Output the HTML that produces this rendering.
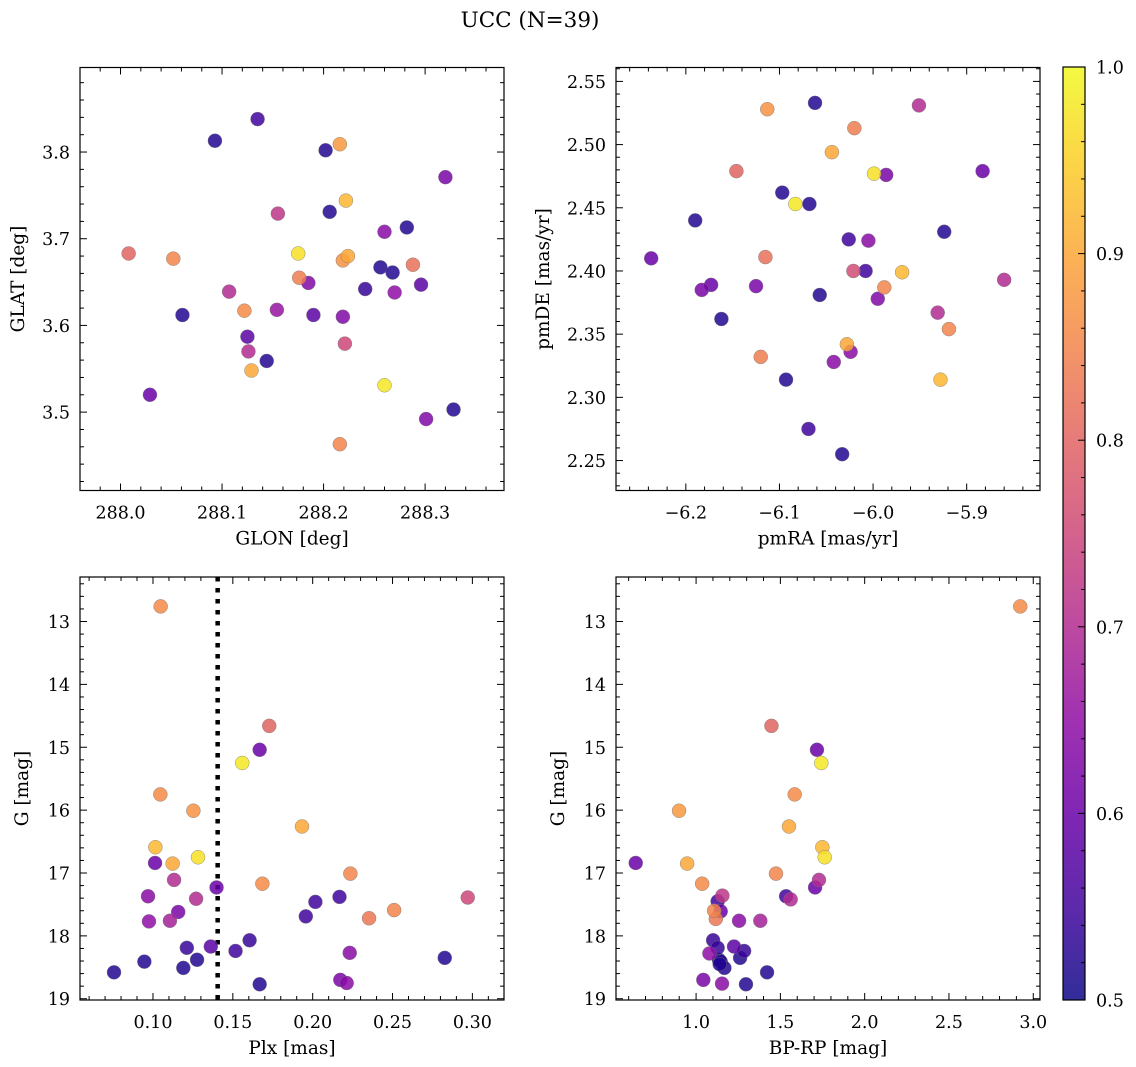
<!DOCTYPE html>
<html><head><meta charset="utf-8"><style>
html,body{margin:0;padding:0;background:#fff;}
svg{display:block;font-family:"DejaVu Serif","Liberation Serif",serif;}
</style></head><body>
<svg id="fig" width="1136" height="1067" viewBox="0 0 1136 1067" xmlns="http://www.w3.org/2000/svg">
<rect width="1136" height="1067" fill="#fff"/>
<text x="530" y="27" font-size="21.5" text-anchor="middle">UCC (N=39)</text>
<defs><linearGradient id="plasma" x1="0" y1="1" x2="0" y2="0">
<stop offset="0" stop-color="#0d0887"/><stop offset="0.1" stop-color="#41049d"/><stop offset="0.2" stop-color="#6a00a8"/><stop offset="0.3" stop-color="#8f0da4"/><stop offset="0.4" stop-color="#b12a90"/><stop offset="0.5" stop-color="#cc4778"/><stop offset="0.6" stop-color="#e16462"/><stop offset="0.7" stop-color="#f2844b"/><stop offset="0.8" stop-color="#fca636"/><stop offset="0.9" stop-color="#fcce25"/><stop offset="1" stop-color="#f0f921"/></linearGradient></defs>
<g id="root"></g>
</svg>
<script>
// Panel 1: GLON / GLAT
const glon=[288.093,288.135,288.202,288.216,288.320,288.222,288.206,288.155,288.260,288.282,288.008,288.052,288.175,288.219,288.224,288.256,288.268,288.288,288.176,288.185,288.107,288.241,288.296,288.270,288.061,288.122,288.154,288.190,288.219,288.125,288.221,288.126,288.144,288.129,288.029,288.260,288.328,288.301,288.216];
const glat=[3.813,3.838,3.802,3.809,3.771,3.744,3.731,3.729,3.708,3.713,3.683,3.677,3.683,3.675,3.680,3.667,3.661,3.670,3.655,3.649,3.639,3.642,3.647,3.638,3.612,3.617,3.618,3.612,3.610,3.587,3.579,3.570,3.559,3.548,3.520,3.531,3.503,3.492,3.463];
const prob1=[0.52,0.55,0.52,0.88,0.62,0.92,0.52,0.72,0.64,0.52,0.8,0.85,0.97,0.87,0.9,0.52,0.52,0.82,0.84,0.63,0.7,0.54,0.58,0.65,0.52,0.86,0.66,0.58,0.63,0.58,0.75,0.7,0.52,0.9,0.6,0.98,0.52,0.63,0.85];
// Panel 2: pmRA / pmDE
const pmra=[-6.113,-6.062,-5.951,-6.020,-6.044,-6.146,-5.999,-5.986,-5.883,-6.097,-6.083,-6.068,-6.190,-5.924,-6.026,-6.005,-6.237,-6.115,-6.021,-6.008,-5.969,-6.173,-6.183,-6.125,-5.988,-5.860,-6.057,-5.995,-6.162,-5.931,-5.919,-6.028,-6.024,-6.120,-6.042,-6.093,-5.928,-6.069,-6.033];
const pmde=[2.528,2.533,2.531,2.513,2.494,2.479,2.477,2.476,2.479,2.462,2.453,2.453,2.440,2.431,2.425,2.424,2.410,2.411,2.400,2.400,2.399,2.389,2.385,2.388,2.387,2.393,2.381,2.378,2.362,2.367,2.354,2.342,2.336,2.332,2.328,2.314,2.314,2.275,2.255];
const prob2=[0.87,0.52,0.7,0.84,0.9,0.8,0.97,0.62,0.6,0.52,0.98,0.52,0.52,0.52,0.55,0.64,0.6,0.82,0.76,0.55,0.92,0.6,0.62,0.62,0.85,0.7,0.52,0.63,0.52,0.7,0.85,0.9,0.64,0.84,0.64,0.52,0.92,0.55,0.52];
// Panel 3: Plx / G
const plx=[0.1048,0.1728,0.1668,0.1559,0.1046,0.1253,0.1933,0.1015,0.1282,0.1013,0.1123,0.2236,0.1132,0.1685,0.1398,0.0969,0.1270,0.2168,0.2971,0.2017,0.2510,0.1158,0.1957,0.2353,0.0975,0.1106,0.1605,0.1212,0.1362,0.1517,0.2232,0.2827,0.0946,0.1276,0.1190,0.0756,0.2173,0.2213,0.1668];
const gmag3=[12.76,14.66,15.04,15.25,15.75,16.01,16.26,16.59,16.75,16.84,16.85,17.01,17.11,17.17,17.23,17.37,17.41,17.38,17.39,17.46,17.59,17.62,17.69,17.72,17.77,17.76,18.07,18.19,18.17,18.24,18.27,18.35,18.41,18.38,18.51,18.58,18.70,18.75,18.77];
const prob3=[0.86,0.8,0.6,0.98,0.86,0.87,0.9,0.92,0.97,0.6,0.9,0.85,0.7,0.86,0.6,0.64,0.7,0.55,0.75,0.55,0.85,0.62,0.55,0.83,0.65,0.68,0.54,0.54,0.58,0.55,0.64,0.52,0.52,0.52,0.52,0.52,0.62,0.64,0.52];
const plxCut=[0.1405];
// Panel 4: BP-RP / G
const bprp=[2.923,1.447,1.717,1.743,1.585,0.899,1.551,1.749,1.763,0.642,0.947,1.474,1.729,1.036,1.706,1.156,1.561,1.534,1.128,1.146,1.107,1.117,1.255,1.381,1.101,1.128,1.225,1.285,1.079,1.261,1.136,1.146,1.168,1.421,1.043,1.154,1.296,1.140];
const gmag4=[12.76,14.66,15.04,15.25,15.75,16.01,16.26,16.59,16.75,16.84,16.85,17.01,17.11,17.17,17.23,17.36,17.42,17.37,17.45,17.61,17.60,17.73,17.76,17.76,18.07,18.19,18.17,18.24,18.28,18.35,18.38,18.41,18.51,18.58,18.70,18.76,18.77,18.45];
const prob4=[0.86,0.8,0.6,0.98,0.86,0.88,0.9,0.92,0.97,0.6,0.9,0.85,0.7,0.86,0.6,0.72,0.7,0.55,0.55,0.6,0.85,0.83,0.64,0.68,0.54,0.54,0.58,0.54,0.65,0.52,0.5,0.52,0.52,0.52,0.62,0.64,0.52,0.52];
const cbarTicks=[0.5,0.6,0.7,0.8,0.9,1.0];

const NS="http://www.w3.org/2000/svg";
const root=document.getElementById('root');
function mk(tag,attrs,parent){const e=document.createElementNS(NS,tag);for(const k in attrs)e.setAttribute(k,attrs[k]);(parent||root).appendChild(e);return e;}
const stops=[[13,8,135],[65,4,157],[106,0,168],[143,13,164],[177,42,144],[204,71,120],[225,100,98],[242,132,75],[252,166,54],[252,206,37],[240,249,33]];
function plasma(v){let t=Math.max(0,Math.min(1,(v-0.5)/0.5))*10;let i=Math.min(9,Math.floor(t));let f=t-i;const a=stops[i],b=stops[i+1];return 'rgb('+a.map((c,k)=>Math.round(c+(b[k]-c)*f)).join(',')+')';}
function fmt(v,d){let s=v.toFixed(d);return s.replace('-','\u2212');}

function panel(o){
  const g=mk('g',{});
  
  
  const sx=v=>o.x0+(v-o.xmin)/(o.xmax-o.xmin)*(o.x1-o.x0);
  const sy=o.yinv?(v=>o.y0+(v-o.ymin)/(o.ymax-o.ymin)*(o.y1-o.y0)):(v=>o.y1-(v-o.ymin)/(o.ymax-o.ymin)*(o.y1-o.y0));
  const eps=1e-9;
  const tg=mk('g',{stroke:'#000','stroke-width':1},g);
  
  
  for(let v=Math.ceil(o.xmin/o.xminor-eps)*o.xminor;v<=o.xmax+eps;v+=o.xminor){
    const X=sx(v);const major=Math.abs(v/o.xmajor-Math.round(v/o.xmajor))<1e-6;const L=major?7:4;
    mk('line',{x1:X,x2:X,y1:o.y1,y2:o.y1-L},tg);mk('line',{x1:X,x2:X,y1:o.y0,y2:o.y0+L},tg);
    if(major){const t=mk('text',{x:X,y:o.y1+28,'font-size':17.5,'text-anchor':'middle',stroke:'none',fill:'#000'},g);t.textContent=fmt(v,o.xd);
      }
  }
  for(let v=Math.ceil(o.ymin/o.yminor-eps)*o.yminor;v<=o.ymax+eps;v+=o.yminor){
    const Y=sy(v);const major=Math.abs(v/o.ymajor-Math.round(v/o.ymajor))<1e-6;const L=major?7:4;
    mk('line',{x1:o.x0,x2:o.x0+L,y1:Y,y2:Y},tg);mk('line',{x1:o.x1,x2:o.x1-L,y1:Y,y2:Y},tg);
    if(major){const t=mk('text',{x:o.x0-10,y:Y+6.5,'font-size':17.5,'text-anchor':'end',fill:'#000'},g);t.textContent=fmt(v,o.yd);
      }
  }
  const xl=mk('text',{x:(o.x0+o.x1)/2,y:o.y1+54,'font-size':18.5,'text-anchor':'middle'},g);xl.textContent=o.xlabel;
  
  const yx=o.x0-o.yoff;const yl=mk('text',{x:yx,y:(o.y0+o.y1)/2,'font-size':18.5,'text-anchor':'middle',transform:'rotate(-90 '+yx+' '+(o.y0+o.y1)/2+')'},g);yl.textContent=o.ylabel;
  
  const clipId='c'+o.name;const cp=mk('clipPath',{id:clipId},g);mk('rect',{x:o.x0,y:o.y0,width:o.x1-o.x0,height:o.y1-o.y0},cp);
  const pg=mk('g',{'clip-path':'url(#'+clipId+')'},g);
  if(o.vline){for(const v of o.vline){const l=mk('line',{x1:sx(v),x2:sx(v),y1:o.y0,y2:o.y1,stroke:'#000','stroke-width':4.5,'stroke-dasharray':'4.5 6.5'},pg);
    }}
  const order=o.c.map((c,i)=>i).sort((a,b)=>o.c[a]-o.c[b]);
  for(const i of order){const c=mk('circle',{cx:sx(o.xs[i]),cy:sy(o.ys[i]),r:7,fill:plasma(o.c[i]),'fill-opacity':0.85,stroke:'#777','stroke-width':0.4},pg);
    }
  const fr=mk('rect',{x:o.x0,y:o.y0,width:o.x1-o.x0,height:o.y1-o.y0,fill:'none',stroke:'#000','stroke-width':1.2},g);
  
}
panel({name:'glon-glat-panel',x0:80,x1:504,y0:67.5,y1:490.5,xmin:287.9601,xmax:288.3777,ymin:3.4096,ymax:3.8975,yinv:false,xmajor:0.1,xminor:0.02,ymajor:0.1,yminor:0.02,xd:1,yd:1,xs:glon,ys:glat,c:prob1,xlabel:'GLON [deg]',ylabel:'GLAT [deg]',yoff:56});
panel({name:'pm-panel',x0:616,x1:1040,y0:67.5,y1:490.5,xmin:-6.2746,xmax:-5.8217,ymin:2.2263,ymax:2.5610,yinv:false,xmajor:0.1,xminor:0.02,ymajor:0.05,yminor:0.01,xd:1,yd:2,xs:pmra,ys:pmde,c:prob2,xlabel:'pmRA [mas/yr]',ylabel:'pmDE [mas/yr]',yoff:67});
panel({name:'plx-g-panel',x0:80,x1:504,y0:577,y1:1000,xmin:0.0543,xmax:0.3198,ymin:12.292,ymax:19.02,yinv:true,xmajor:0.05,xminor:0.01,ymajor:1,yminor:0.2,xd:2,yd:0,xs:plx,ys:gmag3,c:prob3,vline:plxCut,xlabel:'Plx [mas]',ylabel:'G [mag]',yoff:52});
panel({name:'cmd-panel',x0:616,x1:1040,y0:577,y1:1000,xmin:0.525,xmax:3.04,ymin:12.292,ymax:19.02,yinv:true,xmajor:0.5,xminor:0.1,ymajor:1,yminor:0.2,xd:1,yd:0,xs:bprp,ys:gmag4,c:prob4,xlabel:'BP-RP [mag]',ylabel:'G [mag]',yoff:52});

const cb=mk('g',{});


const cy=v=>1000-(v-0.5)/0.5*933;
mk('rect',{x:1063,y:67,width:22,height:933,fill:'url(#plasma)','fill-opacity':0.85},cb);
for(let v=0.5;v<=1.0001;v+=0.02){const Y=cy(v);const major=Math.abs(v*10-Math.round(v*10))<1e-6;mk('line',{x1:1085,x2:1085-(major?7:4),y1:Y,y2:Y,stroke:'#000','stroke-width':1},cb);}
for(const v of cbarTicks){const t=mk('text',{x:1096,y:cy(v)+6.5,'font-size':17.5},cb);t.textContent=v.toFixed(1);
  }
mk('rect',{x:1063,y:67,width:22,height:933,fill:'none',stroke:'#000','stroke-width':1.2},cb);
</script>
</body></html>
